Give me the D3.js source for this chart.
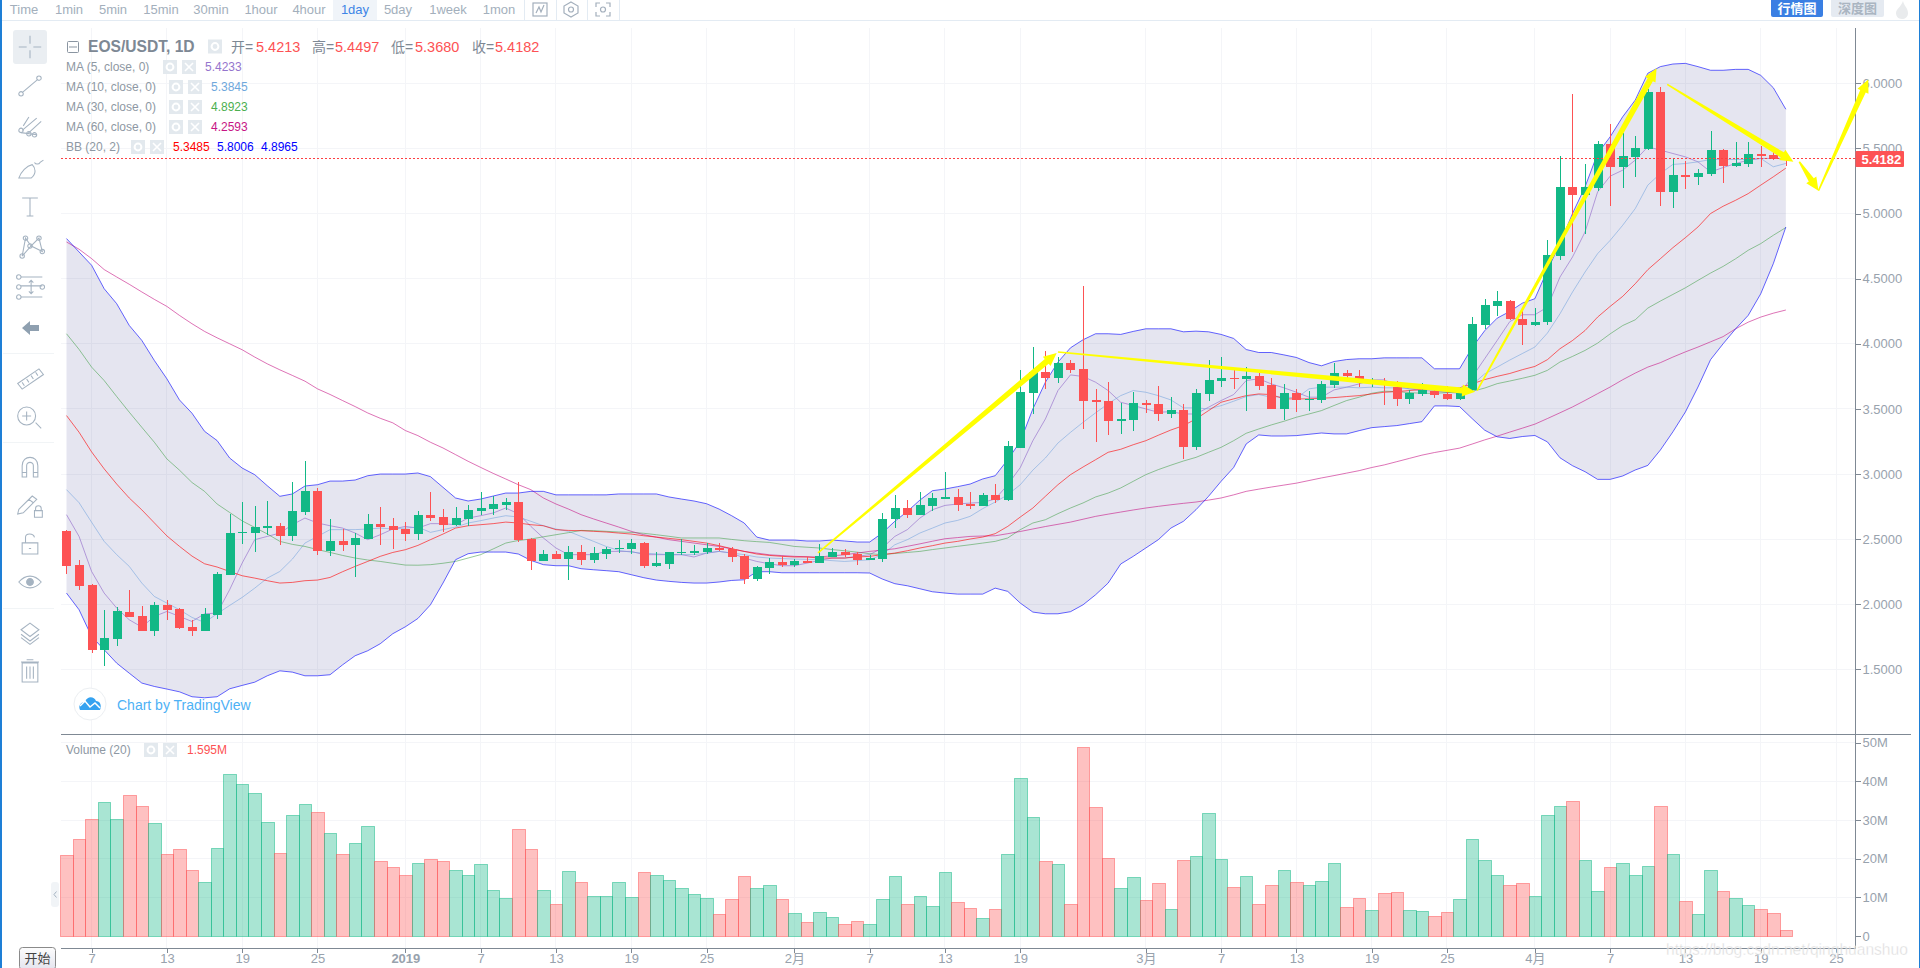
<!DOCTYPE html>
<html>
<head>
<meta charset="utf-8">
<title>EOS/USDT, 1D</title>
<script src="https://cdn.jsdelivr.net/npm/d3@7"></script>
<style>
html,body{margin:0;padding:0;background:#fff;overflow:hidden}
svg{display:block}
text{font-family:"Liberation Sans","Noto Sans CJK SC",sans-serif}
.axis path,.axis line{stroke:#7f8994;shape-rendering:crispEdges}
.axis text{fill:#98a2ad;font-size:13px}
</style>
</head>
<body>
<svg id="chart" width="1920" height="968"></svg>
<script>
// daily candles, index 0 = 5 Dec 2018
var openPrice=[
2.565,2.304,2.150,1.651,1.735,1.943,1.912,1.797,1.996,1.966,
1.827,1.797,1.920,2.227,2.552,2.550,2.588,2.603,2.526,2.711,
2.872,2.411,2.488,2.457,2.503,2.619,2.603,2.580,2.542,2.688,
2.672,2.611,2.657,2.719,2.734,2.765,2.788,2.503,2.334,2.388,
2.350,2.404,2.342,2.388,2.427,2.427,2.473,2.296,2.311,2.396,
2.396,2.404,2.434,2.427,2.373,2.196,2.281,2.327,2.304,2.334,
2.319,2.365,2.404,2.388,2.342,2.350,2.657,2.742,2.688,2.757,
2.811,2.826,2.772,2.757,2.841,2.803,3.202,3.626,3.787,3.741,
3.856,3.810,3.572,3.564,3.410,3.418,3.549,3.541,3.464,3.495,
3.210,3.618,3.718,3.741,3.733,3.756,3.687,3.502,3.626,3.572,
3.572,3.687,3.772,3.756,3.702,3.710,3.672,3.579,3.618,3.641,
3.618,3.579,3.649,4.141,4.287,4.326,4.194,4.141,4.164,4.671,
5.202,5.141,5.194,5.533,5.356,5.433,5.494,5.933,5.164,5.294,
5.279,5.302,5.487,5.364,5.379,5.456,5.448,5.4213]
var highPrice=[
2.573,2.342,2.158,1.958,1.976,2.112,1.989,2.014,2.035,1.971,
1.876,1.971,2.245,2.696,2.788,2.757,2.795,2.624,2.941,3.103,
2.893,2.657,2.580,2.547,2.696,2.749,2.662,2.634,2.719,2.865,
2.734,2.749,2.765,2.865,2.834,2.818,2.941,2.511,2.419,2.411,
2.450,2.457,2.442,2.442,2.496,2.503,2.480,2.404,2.404,2.503,
2.457,2.473,2.473,2.442,2.388,2.296,2.357,2.373,2.350,2.365,
2.465,2.434,2.427,2.404,2.381,2.703,2.841,2.803,2.865,2.857,
3.018,2.888,2.865,2.857,2.926,3.256,3.795,3.972,3.941,3.895,
3.879,4.441,3.656,3.710,3.549,3.633,3.572,3.679,3.595,3.541,
3.656,3.879,3.902,3.795,3.818,3.772,3.741,3.695,3.656,3.641,
3.718,3.849,3.802,3.795,3.741,3.741,3.718,3.649,3.702,3.672,
3.679,3.672,4.202,4.341,4.402,4.333,4.248,4.271,4.794,5.441,
5.918,5.379,5.556,5.687,5.618,5.594,5.953,5.972,5.425,5.402,
5.341,5.633,5.494,5.548,5.548,5.518,5.471,5.4497]
var lowPrice=[
2.235,2.112,1.625,1.528,1.681,1.904,1.797,1.758,1.881,1.812,
1.758,1.797,1.889,2.227,2.465,2.404,2.534,2.457,2.488,2.688,
2.381,2.373,2.411,2.211,2.503,2.457,2.427,2.488,2.496,2.642,
2.557,2.603,2.603,2.688,2.688,2.726,2.480,2.265,2.334,2.350,
2.188,2.304,2.319,2.350,2.396,2.388,2.281,2.288,2.273,2.381,
2.381,2.388,2.411,2.327,2.158,2.181,2.235,2.288,2.288,2.319,
2.319,2.365,2.365,2.304,2.342,2.327,2.588,2.665,2.688,2.719,
2.811,2.719,2.734,2.757,2.780,2.795,3.197,3.464,3.656,3.702,
3.779,3.349,3.249,3.302,3.310,3.333,3.472,3.410,3.433,3.118,
3.187,3.564,3.672,3.656,3.487,3.649,3.502,3.418,3.479,3.487,
3.549,3.664,3.733,3.672,3.672,3.533,3.526,3.541,3.602,3.587,
3.572,3.572,3.641,4.110,4.210,4.179,3.994,4.133,4.148,4.641,
4.702,4.841,5.171,5.056,5.194,5.279,5.487,5.056,5.041,5.187,
5.218,5.287,5.233,5.356,5.356,5.356,5.410,5.3680]
var closePrice=[
2.296,2.142,1.651,1.743,1.950,1.904,1.797,1.996,1.958,1.817,
1.797,1.927,2.235,2.550,2.557,2.596,2.603,2.526,2.719,2.872,
2.411,2.488,2.457,2.511,2.619,2.596,2.573,2.542,2.688,2.665,
2.611,2.665,2.726,2.742,2.772,2.788,2.496,2.334,2.388,2.350,
2.404,2.342,2.396,2.427,2.434,2.473,2.296,2.319,2.404,2.404,
2.411,2.434,2.419,2.365,2.196,2.288,2.327,2.304,2.334,2.319,
2.373,2.404,2.381,2.342,2.357,2.657,2.742,2.688,2.765,2.818,
2.826,2.765,2.757,2.841,2.803,3.218,3.633,3.787,3.741,3.856,
3.802,3.564,3.556,3.410,3.426,3.549,3.533,3.464,3.495,3.210,
3.626,3.725,3.741,3.733,3.756,3.679,3.502,3.626,3.572,3.579,
3.695,3.772,3.749,3.718,3.710,3.702,3.579,3.626,3.649,3.610,
3.579,3.626,4.149,4.295,4.326,4.187,4.141,4.171,4.679,5.202,
5.141,5.202,5.533,5.356,5.441,5.502,5.933,5.164,5.294,5.279,
5.310,5.487,5.364,5.387,5.456,5.441,5.415,5.4182]
// volume in millions
var volume=[
20.9,25.0,30.2,34.6,30.2,36.6,33.5,29.1,21.1,22.4,
17.2,13.9,22.7,41.8,39.2,36.9,29.4,21.4,31.2,34.1,
32.0,26.6,21.1,24.0,28.4,19.3,17.8,15.7,18.8,19.8,
19.3,17.2,15.7,18.5,11.8,9.7,27.6,22.4,11.8,8.2,
16.7,13.9,10.3,10.3,13.9,10.0,16.5,15.7,14.4,12.3,
10.8,9.7,5.6,9.5,15.4,12.3,13.1,9.5,5.9,3.5,
6.1,4.8,3.0,3.8,3.0,9.5,15.4,8.2,10.3,7.7,
16.5,8.7,7.2,4.6,6.9,21.1,40.8,30.7,19.3,18.5,
8.2,48.8,33.3,20.1,12.3,15.2,9.2,13.6,6.9,19.6,
20.6,31.7,19.8,12.8,15.4,8.4,13.1,17.0,13.9,13.1,
14.1,19.0,7.4,9.7,6.6,11.0,11.3,6.6,6.4,5.1,
6.1,9.5,25.0,19.6,15.7,13.1,13.6,10.3,31.2,33.5,
34.8,19.6,11.6,17.8,19.0,15.7,18.0,33.5,21.1,9.0,
5.6,17.0,11.6,9.7,7.9,6.9,5.9,1.595]
var ma5=[
2.688,2.521,2.252,2.086,1.971,1.881,1.825,1.907,1.945,1.907,
1.868,1.927,1.932,2.112,2.317,2.496,2.521,2.547,2.611,2.662,
2.624,2.603,2.585,2.547,2.496,2.534,2.578,2.598,2.585,2.619,
2.619,2.611,2.662,2.680,2.701,2.739,2.695,2.598,2.509,2.432,
2.381,2.381,2.381,2.406,2.406,2.406,2.381,2.381,2.381,2.381,
2.363,2.393,2.406,2.393,2.355,2.329,2.311,2.296,2.296,2.316,
2.337,2.355,2.355,2.368,2.381,2.432,2.521,2.573,2.662,2.726,
2.759,2.770,2.777,2.782,2.808,2.918,3.050,3.256,3.423,3.641,
3.761,3.749,3.705,3.641,3.551,3.526,3.500,3.474,3.479,3.461,
3.461,3.513,3.564,3.610,3.718,3.731,3.692,3.662,3.628,3.590,
3.590,3.646,3.667,3.692,3.723,3.723,3.679,3.654,3.641,3.636,
3.628,3.620,3.744,3.885,4.026,4.170,4.223,4.223,4.282,4.512,
4.666,4.859,5.166,5.287,5.333,5.410,5.512,5.487,5.461,5.435,
5.397,5.320,5.353,5.384,5.410,5.423,5.423,5.4233]
var ma10=[
2.880,2.780,2.630,2.483,2.381,2.291,2.163,2.060,2.009,1.958,
1.899,1.861,1.927,1.991,2.053,2.124,2.201,2.252,2.347,2.470,
2.521,2.573,2.573,2.573,2.578,2.585,2.578,2.585,2.593,2.552,
2.573,2.593,2.624,2.642,2.662,2.680,2.670,2.637,2.603,2.578,
2.560,2.521,2.483,2.444,2.414,2.400,2.393,2.387,2.381,2.381,
2.381,2.393,2.406,2.393,2.381,2.363,2.355,2.351,2.347,2.345,
2.342,2.335,2.329,2.335,2.342,2.381,2.457,2.496,2.547,2.585,
2.624,2.644,2.675,2.734,2.785,2.841,2.918,3.030,3.123,3.238,
3.320,3.397,3.470,3.540,3.602,3.641,3.628,3.602,3.569,3.508,
3.508,3.500,3.525,3.559,3.595,3.610,3.590,3.595,3.582,3.654,
3.667,3.667,3.667,3.662,3.667,3.662,3.662,3.654,3.662,3.641,
3.628,3.636,3.685,3.769,3.821,3.875,3.925,3.975,4.082,4.230,
4.397,4.551,4.692,4.794,4.910,5.038,5.218,5.307,5.377,5.384,
5.397,5.415,5.415,5.415,5.415,5.423,5.359,5.3845]
var ma30=[
4.077,3.957,3.821,3.718,3.595,3.475,3.359,3.244,3.116,3.030,
2.935,2.867,2.770,2.705,2.640,2.590,2.540,2.483,2.460,2.444,
2.420,2.398,2.375,2.355,2.340,2.329,2.315,2.301,2.300,2.304,
2.315,2.329,2.355,2.381,2.425,2.470,2.490,2.501,2.518,2.534,
2.550,2.567,2.565,2.560,2.555,2.552,2.545,2.534,2.522,2.509,
2.509,2.509,2.509,2.498,2.488,2.481,2.475,2.460,2.444,2.438,
2.432,2.420,2.411,2.400,2.388,2.381,2.390,2.398,2.406,2.420,
2.432,2.445,2.457,2.470,2.483,2.509,2.573,2.624,2.649,2.696,
2.739,2.778,2.824,2.854,2.893,2.944,2.995,3.034,3.068,3.100,
3.128,3.167,3.205,3.256,3.313,3.346,3.377,3.405,3.436,3.461,
3.487,3.526,3.564,3.590,3.620,3.636,3.633,3.625,3.620,3.620,
3.625,3.630,3.635,3.660,3.694,3.714,3.735,3.758,3.796,3.860,
3.903,3.949,4.005,4.076,4.140,4.184,4.274,4.328,4.379,4.430,
4.487,4.543,4.594,4.653,4.718,4.769,4.833,4.8923]
var ma60=[
4.782,4.726,4.654,4.570,4.513,4.457,4.398,4.341,4.287,4.218,
4.154,4.095,4.046,4.000,3.954,3.898,3.846,3.800,3.757,3.713,
3.654,3.611,3.564,3.518,3.469,3.428,3.393,3.334,3.295,3.244,
3.200,3.149,3.098,3.051,3.005,2.962,2.918,2.880,2.816,2.770,
2.731,2.688,2.655,2.624,2.593,2.560,2.534,2.515,2.496,2.483,
2.470,2.457,2.444,2.425,2.406,2.393,2.380,2.374,2.368,2.365,
2.363,2.372,2.380,2.393,2.406,2.416,2.426,2.445,2.464,2.484,
2.503,2.512,2.521,2.524,2.526,2.542,2.559,2.578,2.597,2.614,
2.631,2.653,2.675,2.692,2.708,2.724,2.739,2.752,2.764,2.775,
2.785,2.800,2.816,2.840,2.867,2.884,2.900,2.915,2.930,2.950,
2.970,2.988,3.007,3.026,3.050,3.070,3.095,3.120,3.145,3.165,
3.182,3.199,3.230,3.262,3.291,3.322,3.352,3.383,3.426,3.470,
3.515,3.565,3.617,3.668,3.724,3.775,3.821,3.855,3.898,3.938,
3.975,4.015,4.055,4.115,4.166,4.205,4.235,4.2593]
var bbUpper=[
4.808,4.705,4.603,4.423,4.308,4.141,4.026,3.872,3.731,3.569,
3.467,3.328,3.257,3.123,3.046,2.995,2.910,2.829,2.847,2.908,
2.918,2.946,2.946,2.954,2.987,3.000,3.000,3.000,3.008,2.980,
2.898,2.816,2.793,2.808,2.831,2.854,2.854,2.867,2.867,2.840,
2.840,2.840,2.840,2.840,2.847,2.847,2.847,2.847,2.824,2.808,
2.793,2.772,2.731,2.680,2.624,2.516,2.493,2.493,2.493,2.486,
2.486,2.493,2.486,2.478,2.478,2.547,2.637,2.713,2.800,2.872,
2.885,2.903,2.923,2.962,2.987,3.110,3.250,3.500,3.705,3.859,
3.969,4.031,4.077,4.077,4.072,4.095,4.115,4.115,4.115,4.092,
4.097,4.092,4.072,4.041,3.956,3.933,3.933,3.915,3.895,3.856,
3.831,3.864,3.879,3.885,3.885,3.892,3.892,3.892,3.892,3.808,
3.808,3.808,3.970,4.100,4.197,4.248,4.312,4.346,4.564,4.769,
5.000,5.205,5.461,5.589,5.743,5.871,6.077,6.128,6.148,6.153,
6.128,6.100,6.100,6.107,6.107,6.061,5.966,5.8006]
var bbLower=[
2.086,1.958,1.753,1.651,1.548,1.471,1.395,1.369,1.349,1.328,
1.290,1.282,1.290,1.351,1.377,1.402,1.451,1.489,1.479,1.451,
1.451,1.459,1.535,1.605,1.643,1.697,1.774,1.827,1.891,1.996,
2.163,2.342,2.388,2.401,2.401,2.401,2.386,2.337,2.304,2.296,
2.296,2.273,2.265,2.258,2.250,2.227,2.204,2.186,2.176,2.168,
2.163,2.163,2.171,2.183,2.188,2.250,2.250,2.242,2.242,2.242,
2.242,2.242,2.242,2.242,2.240,2.194,2.158,2.142,2.119,2.096,
2.086,2.078,2.078,2.078,2.124,2.099,2.009,1.940,1.927,1.927,
1.943,1.996,2.073,2.163,2.309,2.368,2.432,2.496,2.585,2.637,
2.726,2.829,2.944,3.050,3.231,3.300,3.292,3.292,3.295,3.305,
3.315,3.308,3.308,3.333,3.356,3.364,3.372,3.387,3.402,3.523,
3.523,3.518,3.426,3.337,3.286,3.273,3.288,3.296,3.247,3.125,
3.064,3.018,2.959,2.959,2.985,3.031,3.066,3.184,3.324,3.477,
3.668,3.878,4.000,4.115,4.218,4.384,4.615,4.8965]
var bbBasis=[
3.449,3.321,3.170,3.040,2.923,2.816,2.725,2.625,2.525,2.445,
2.370,2.311,2.286,2.252,2.219,2.201,2.181,2.163,2.168,2.181,
2.186,2.206,2.250,2.291,2.329,2.368,2.398,2.419,2.452,2.496,
2.539,2.585,2.603,2.611,2.619,2.631,2.624,2.611,2.603,2.573,
2.567,2.565,2.560,2.555,2.547,2.539,2.526,2.516,2.506,2.496,
2.483,2.470,2.450,2.427,2.406,2.386,2.375,2.368,2.363,2.363,
2.355,2.355,2.355,2.363,2.368,2.381,2.393,2.411,2.432,2.450,
2.470,2.483,2.501,2.516,2.542,2.598,2.670,2.739,2.829,2.918,
2.995,3.054,3.110,3.167,3.190,3.225,3.256,3.298,3.338,3.372,
3.423,3.487,3.551,3.577,3.602,3.615,3.610,3.577,3.577,3.577,
3.582,3.587,3.595,3.602,3.615,3.628,3.633,3.641,3.649,3.654,
3.659,3.662,3.692,3.725,3.750,3.772,3.801,3.826,3.878,3.962,
4.025,4.102,4.205,4.287,4.364,4.461,4.569,4.653,4.738,4.815,
4.897,5.000,5.056,5.102,5.153,5.218,5.282,5.3485]

var priceTicks=[1.5,2,2.5,3,3.5,4,4.5,5,5.5,6]
var volumeTicks=[0,10,20,30,40,50]
var timeTickDays=[2,8,14,20,27,33,39,45,51,58,64,70,76,86,92,98,104,110,117,123,129,135,141]
var timeTickLabels=["7","13","19","25","2019","7","13","19","25","2月","7","13","19","3月","7","13","19","25","4月","7","13","19","25"]
var intervals=["Time","1min","5min","15min","30min","1hour","4hour","1day","5day","1week","1mon"]
var intervalCenters=[24,69,113,161,211,261,309,355,398,448,499]
var lastPrice=5.4182

// hand drawn yellow arrows: [day index, price] from -> to
var arrowStart=[[59.88,2.394],[79.0,3.937],[112.4,3.640],[127.55,5.992],[138.07,5.398],[139.6,5.175]]
var arrowEnd=[[78.9,3.929],[112.25,3.632],[126.7,6.115],[137.6,5.398],[139.6,5.175],[143.57,6.030]]

var pane={left:61,right:1855.5,top:28,bottom:734.5,axisBottom:948.5}
var redColor="#fd5254"
var greenColor="#12b886"

var svg=d3.select("#chart")
var days=d3.range(openPrice.length)

var xScale=d3.scaleLinear()
    .domain([-0.438,142.55])
    .range([pane.left,pane.right])
var yScale=d3.scaleLinear()
    .domain([1.5,6])
    .range([669.4,83.3])
var volScale=d3.scaleLinear()
    .domain([0,50])
    .range([936,742.7])

var upDay=function(i){return closePrice[i]>=openPrice[i]}

var drawGrid=function()
    {
        var grid=svg.append("g")
            .attr("stroke","#f4f5f8")
            .attr("shape-rendering","crispEdges")
        grid.selectAll(".v")
            .data(timeTickDays)
            .enter()
            .append("line")
            .attr("x1",function(d){return xScale(d)})
            .attr("x2",function(d){return xScale(d)})
            .attr("y1",pane.top)
            .attr("y2",pane.axisBottom)
        grid.selectAll(".h")
            .data(priceTicks)
            .enter()
            .append("line")
            .attr("x1",pane.left)
            .attr("x2",pane.right)
            .attr("y1",function(d){return yScale(d)})
            .attr("y2",function(d){return yScale(d)})
        grid.selectAll(".vol")
            .data(volumeTicks.slice(1))
            .enter()
            .append("line")
            .attr("x1",pane.left)
            .attr("x2",pane.right)
            .attr("y1",function(d){return volScale(d)})
            .attr("y2",function(d){return volScale(d)})
    }

var drawBands=function()
    {
        var area=d3.area()
            .x(function(i){return xScale(i)})
            .y0(function(i){return yScale(bbLower[i])})
            .y1(function(i){return yScale(bbUpper[i])})
        svg.append("path")
            .datum(days)
            .attr("d",area)
            .attr("fill","rgb(30,30,120)")
            .attr("fill-opacity",0.115)
    }

var drawLine=function(values,color,opacity)
    {
        var line=d3.line()
            .x(function(v,i){return xScale(i)})
            .y(function(v){return yScale(v)})
        svg.append("path")
            .datum(values)
            .attr("d",line)
            .attr("fill","none")
            .attr("stroke",color)
            .attr("stroke-opacity",opacity)
            .attr("stroke-width",1)
    }

var drawCandles=function()
    {
        var candles=svg.append("g")
            .attr("shape-rendering","crispEdges")
            .selectAll("g")
            .data(days)
            .enter()
            .append("g")
            .attr("fill",function(i){return upDay(i)?greenColor:redColor})
        candles.append("rect")
            .attr("x",function(i){return Math.round(xScale(i))})
            .attr("width",1)
            .attr("y",function(i){return yScale(highPrice[i])})
            .attr("height",function(i){return yScale(lowPrice[i])-yScale(highPrice[i])})
        candles.append("rect")
            .attr("x",function(i){return Math.round(xScale(i))-4})
            .attr("width",9)
            .attr("y",function(i){return yScale(Math.max(openPrice[i],closePrice[i]))})
            .attr("height",function(i){return Math.max(1.5,Math.abs(yScale(openPrice[i])-yScale(closePrice[i])))})
    }

var drawVolume=function()
    {
        svg.append("g")
            .selectAll("rect")
            .data(days)
            .enter()
            .append("rect")
            .attr("x",function(i){return Math.round(xScale(i-0.5))+0.5})
            .attr("width",function(i){return Math.round(xScale(i+0.5))-Math.round(xScale(i-0.5))})
            .attr("y",function(i){return Math.round(volScale(volume[i]))+0.5})
            .attr("height",function(i){return volScale(0)-Math.round(volScale(volume[i]))})
            .attr("fill",function(i){return upDay(i)?greenColor:redColor})
            .attr("fill-opacity",0.36)
            .attr("stroke",function(i){return upDay(i)?greenColor:redColor})
            .attr("stroke-opacity",0.5)
    }

var drawArrows=function()
    {
        // tapered shaft with a small head, thin end at the start
        arrowStart.forEach(function(from,k)
            {
                var x0=xScale(from[0]),y0=yScale(from[1])
                var x1=xScale(arrowEnd[k][0]),y1=yScale(arrowEnd[k][1])
                var len=Math.sqrt((x1-x0)*(x1-x0)+(y1-y0)*(y1-y0))
                var ux=(x1-x0)/len,uy=(y1-y0)/len
                var nx=-uy,ny=ux
                var headLen=Math.min(13,len*0.4)
                var tail=0.8,neck=3,wing=6
                var bx=x1-ux*headLen,by=y1-uy*headLen
                var pts=[
                    [x0+nx*tail,y0+ny*tail],
                    [bx+nx*neck,by+ny*neck],
                    [bx+nx*wing,by+ny*wing],
                    [x1,y1],
                    [bx-nx*wing,by-ny*wing],
                    [bx-nx*neck,by-ny*neck],
                    [x0-nx*tail,y0-ny*tail]
                ]
                svg.append("polygon")
                    .attr("points",pts.map(function(p){return p.join(",")}).join(" "))
                    .attr("fill","#ffff00")
            })
    }

var drawAxes=function()
    {
        var priceAxis=d3.axisRight(yScale)
            .tickValues(priceTicks)
            .tickSize(5)
            .tickPadding(2)
            .tickFormat(d3.format(".4f"))
        svg.append("g")
            .attr("class","axis")
            .attr("transform","translate("+pane.right+",0)")
            .call(priceAxis)
            .select(".domain").remove()

        var volAxis=d3.axisRight(volScale)
            .tickValues(volumeTicks)
            .tickSize(5)
            .tickPadding(2)
            .tickFormat(function(d){return d==0?"0":d+"M"})
        svg.append("g")
            .attr("class","axis")
            .attr("transform","translate("+pane.right+",0)")
            .call(volAxis)
            .select(".domain").remove()

        var timeAxis=d3.axisBottom(xScale)
            .tickValues(timeTickDays)
            .tickSize(4)
            .tickPadding(1)
            .tickFormat(function(d,i){return timeTickLabels[i]})
        var g=svg.append("g")
            .attr("class","axis")
            .attr("transform","translate(0,"+pane.axisBottom+")")
            .call(timeAxis)
        g.select(".domain").remove()
        g.selectAll("text")
            .style("font-weight",function(d,i){return timeTickLabels[i]=="2019"?"bold":"normal"})

        var frame=svg.append("g")
            .attr("stroke","#7f8994")
            .attr("shape-rendering","crispEdges")
        frame.append("line").attr("x1",pane.left).attr("x2",1911).attr("y1",pane.bottom).attr("y2",pane.bottom)
        frame.append("line").attr("x1",pane.left).attr("x2",pane.right).attr("y1",pane.axisBottom).attr("y2",pane.axisBottom)
        frame.append("line").attr("x1",pane.right).attr("x2",pane.right).attr("y1",pane.top).attr("y2",pane.axisBottom)
    }

var drawLastPrice=function()
    {
        svg.append("line")
            .attr("x1",pane.left)
            .attr("x2",pane.right)
            .attr("y1",Math.round(yScale(lastPrice))-0.5)
            .attr("y2",Math.round(yScale(lastPrice))-0.5)
            .attr("stroke","#fd3f42")
            .attr("stroke-dasharray","2,2")
        svg.append("rect")
            .attr("x",pane.right)
            .attr("y",yScale(lastPrice)-8)
            .attr("width",48.5)
            .attr("height",16)
            .attr("rx",1)
            .attr("fill",redColor)
        svg.append("text")
            .text(d3.format(".4f")(lastPrice))
            .attr("x",pane.right+6)
            .attr("y",yScale(lastPrice)+4.5)
            .attr("fill","#fff")
            .style("font-size","13px")
            .style("font-weight","bold")
    }

var label=function(parent,txt,x,y,size,color,weight)
    {
        return parent.append("text")
            .text(txt)
            .attr("x",x)
            .attr("y",y)
            .attr("fill",color)
            .style("font-size",size+"px")
            .style("font-weight",weight||"normal")
    }

// small gear + close squares beside each study name
var studyBoxes=function(parent,x1,x2,y)
    {
        [x1,x2].forEach(function(x,k)
            {
                parent.append("rect")
                    .attr("x",x).attr("y",y-7).attr("width",14).attr("height",14)
                    .attr("fill","#e3e9ee")
                if(k==0)
                    {
                        parent.append("circle")
                            .attr("cx",x+7).attr("cy",y).attr("r",3.4)
                            .attr("fill","none").attr("stroke","#fff").attr("stroke-width",2)
                    }
                else
                    {
                        parent.append("path")
                            .attr("d","M"+(x+3)+","+(y-4)+"L"+(x+11)+","+(y+4)+"M"+(x+11)+","+(y-4)+"L"+(x+3)+","+(y+4))
                            .attr("stroke","#fff").attr("stroke-width",1.6)
                    }
            })
    }

var drawLegend=function()
    {
        var g=svg.append("g")
        g.append("rect")
            .attr("x",67.5).attr("y",41.5).attr("width",11).attr("height",11).attr("rx",1)
            .attr("fill","none").attr("stroke","#8a95a1")
        g.append("line")
            .attr("x1",69).attr("x2",77).attr("y1",47).attr("y2",47).attr("stroke","#8a95a1")
        label(g,"EOS/USDT, 1D",88,52,15.6,"#7d8894","bold")
        studyBoxes(g,208,-100,46.5)
        var pairs=[["开=","5.4213",231,256],["高=","5.4497",312,335],["低=","5.3680",391,415],["收=","5.4182",472,495]]
        pairs.forEach(function(p)
            {
                label(g,p[0],p[2],52,14,"#7d8894")
                label(g,p[1],p[3],52,14.5,"#fd5254")
            })

        var rows=[
            {name:"MA (5, close, 0)",y:67,b1:163,b2:182,vals:[["5.4233",205,"#9575cd"]]},
            {name:"MA (10, close, 0)",y:87,b1:169,b2:188,vals:[["5.3845",211,"#6fa8dc"]]},
            {name:"MA (30, close, 0)",y:107,b1:169,b2:188,vals:[["4.8923",211,"#4caf50"]]},
            {name:"MA (60, close, 0)",y:127,b1:169,b2:188,vals:[["4.2593",211,"#c71585"]]},
            {name:"BB (20, 2)",y:147,b1:131,b2:150,vals:[["5.3485",173,"#ff0000"],["5.8006",217,"#0000ff"],["4.8965",261,"#0000ff"]]}
        ]
        rows.forEach(function(r)
            {
                label(g,r.name,66,r.y+4,12,"#8e98a3")
                studyBoxes(g,r.b1,r.b2,r.y)
                r.vals.forEach(function(v){label(g,v[0],v[1],r.y+4,12,v[2])})
            })

        label(g,"Volume (20)",66,754,12,"#8e98a3")
        studyBoxes(g,144,163,750)
        label(g,"1.595M",187,754,12,"#fd5254")
    }

var drawToolbar=function()
    {
        var top=svg.append("g")
        top.append("rect").attr("x",333).attr("y",0).attr("width",44).attr("height",20).attr("fill","#f0f4f9")
        top.append("line").attr("x1",0).attr("x2",1920).attr("y1",20.5).attr("y2",20.5).attr("stroke","#e3ebf3")
        intervals.forEach(function(t,i)
            {
                label(top,t,intervalCenters[i],14,13,t=="1day"?"#3d85e6":"#a3afbc")
                    .attr("text-anchor","middle")
            })
        ;[524,556,587,619].forEach(function(x)
            {
                top.append("line").attr("x1",x+0.5).attr("x2",x+0.5).attr("y1",0).attr("y2",20).attr("stroke","#e3ebf3")
            })
        var stroke={"fill":"none","stroke":"#a3afbc","stroke-width":1.2}
        var s=function(sel){Object.keys(stroke).forEach(function(k){sel.attr(k,stroke[k])});return sel}
        s(top.append("rect").attr("x",533).attr("y",3).attr("width",14).attr("height",13))
        s(top.append("path").attr("d","M536,13L539,7L541,12L544,5"))
        s(top.append("path").attr("d","M571,2L578,6V13L571,17L564,13V6Z"))
        s(top.append("circle").attr("cx",571).attr("cy",9.5).attr("r",2.5))
        s(top.append("path").attr("d","M596,7V3H600M606,3H610V7M610,12V16H606M600,16H596V12"))
        s(top.append("circle").attr("cx",603).attr("cy",9.5).attr("r",2.5))

        // top right buttons, cut off by the window edge
        top.append("rect").attr("x",1771).attr("y",-3).attr("width",52).attr("height",20).attr("rx",2).attr("fill","#3a7fe3")
        label(top,"行情图",1797,13,13,"#fff","bold").attr("text-anchor","middle")
        top.append("rect").attr("x",1831).attr("y",-3).attr("width",53).attr("height",20).attr("rx",2).attr("fill","#e5eaf1")
        label(top,"深度图",1857.5,13,13,"#aab5c1","bold").attr("text-anchor","middle")
        top.append("path")
            .attr("d","M1903,1C1904,6 1908,8 1908,13C1908,17 1905,19 1902,19C1898,19 1896,16 1896,13C1896,9 1901,7 1903,1Z")
            .attr("fill","#e9ebed")

        // side tool icons
        var left=svg.append("g")
            .attr("fill","none")
            .attr("stroke","#a5b3c1")
            .attr("stroke-width",0.95)
        left.append("rect").attr("x",13).attr("y",30).attr("width",34).attr("height",34).attr("rx",3).attr("fill","#eaeef2").attr("stroke","none")
        var icon=function(y,d,extra)
            {
                var g=left.append("g").attr("transform","translate(30,"+y+") scale(1.12)")
                g.append("path").attr("d",d)
                ;(extra||[]).forEach(function(c)
                    {
                        g.append("circle").attr("cx",c[0]).attr("cy",c[1]).attr("r",c[2]||2)
                    })
                return g
            }
        icon(47,"M-10,0H-3M3,0H10M0,-10V-3M0,3V10")
        icon(86,"M-7,6L7,-6",[[-8,7],[8,-7]])
        icon(127,"M-6,-1L-1,-9M-7,3L6,-8M-2,6L10,-5M-8,5L6,7",[[-8,3],[-1,6],[4,7]])
        icon(168,"M-10,9H1C6,5 5,0 2,-3C-3,-2 -8,3 -10,9ZM4,-5C5,-3 8,-3 9,-5L12,-7")
        icon(207,"M-7,-8H7M0,-8V8M-3,8H3")
        icon(246,"M-7,9L-4,-7L1,0L8,-7L11,5L1,0L-7,9",[[-7,9],[-4,-7],[8,-7],[11,5],[0,0]])
        icon(287,"M-8,-9H11M-8,-1H11M-8,9H11M1,-6V6M-1,-4L1,-6L3,-4M-1,4L1,6L3,4",[[-10,-9],[-10,0],[-10,9],[11,0]])
        left.append("path").attr("d","M22,328L30,321V325H39V331H30V335Z").attr("fill","#8fa0b0").attr("stroke","none")
        ;[353,442,608].forEach(function(y)
            {
                left.append("line").attr("x1",3).attr("x2",54).attr("y1",y+0.5).attr("y2",y+0.5).attr("stroke","#f0f3f6")
            })
        icon(379,"M-11,4L8,-9L12,-4L-7,9ZM-7,3L-5,6M-3,0L-1,3M1,-3L3,0M5,-6L7,-3")
        icon(416,"M-3,-4V4M-7,0H1M5,6L10,11",[[-3,0,8]])
        icon(468,"M-7,8V-2C-7,-12 7,-12 7,-2V8H3V-2C3,-6 -3,-6 -3,-2V8ZM-7,4H-3M3,4H7")
        icon(505,"M-10,4L2,-8L6,-5L-6,7L-11,8ZM-1,-5L3,-2M4,5H11V11H4ZM5,5V3C5,0 10,0 10,3V5")
        icon(544,"M-7,-1H7V9H-7ZM-4,-1V-6C-4,-10 3,-10 4,-6M-1,4H1")
        icon(582,"M-10,0C-4,-7 4,-7 10,0C4,7 -4,7 -10,0Z").append("circle").attr("r",3).attr("fill","#a5b3c1")
        icon(632,"M-8,-2L0,-8L8,-2L0,4ZM-8,2L0,8L8,2M-8,5L0,11L8,5")
        icon(672,"M-7,-8H7V9H-7ZM-8,-9H8M-3,-11H3M-3,-5V6M0,-5V6M3,-5V6")

        svg.append("rect").attr("x",0).attr("y",0).attr("width",2).attr("height",968).attr("fill","#1e7fd6")
        svg.append("rect").attr("x",1919).attr("y",0).attr("width",1).attr("height",968).attr("fill","#1e7fd6")
    }

var drawExtras=function()
    {
        // chart by tradingview badge
        var badge=svg.append("g")
        badge.append("circle")
            .attr("cx",90).attr("cy",704).attr("r",16)
            .attr("fill","#fff").attr("stroke","#eceff2")
        badge.append("path")
            .attr("d","M80,710C78,705 81,702 85,702C87,696 94,696 96,701C100,701 102,705 100,710Z")
            .attr("fill","#35a2f0")
        badge.append("path")
            .attr("d","M80,706L85,701L90,707L95,703L100,708")
            .attr("fill","none").attr("stroke","#fff").attr("stroke-width",1.5)
        label(badge,"Chart by TradingView",117,710,14,"#4db1f5")

        // collapse handle of the volume pane
        svg.append("rect").attr("x",51).attr("y",882).attr("width",8).attr("height",25).attr("rx",3).attr("fill","#f1f4f7")
        svg.append("path").attr("d","M56.5,891.5L54,894.5L56.5,897.5").attr("fill","none").attr("stroke","#a5b3c1")

        // windows start button over the page
        var defs=svg.append("defs").append("linearGradient")
            .attr("id","btn").attr("x1",0).attr("x2",0).attr("y1",0).attr("y2",1)
        defs.append("stop").attr("offset","0").attr("stop-color","#fdfdfd")
        defs.append("stop").attr("offset","1").attr("stop-color","#e4e4ee")
        svg.append("rect")
            .attr("x",19.5).attr("y",947.5).attr("width",36).attr("height",22).attr("rx",3)
            .attr("fill","url(#btn)").attr("stroke","#8a8a8a")
        label(svg,"开始",37.5,963,13,"#444").attr("text-anchor","middle")

        // csdn watermark
        label(svg,"https://blog.csdn.net/qinghuanshuo",1666,955,15.6,"#cfcfcf")
            .attr("opacity",0.75)
            .attr("stroke","#fff")
            .attr("stroke-width",0.4)
    }

drawGrid()
drawBands()
drawVolume()
drawLine(ma5,"#8e64c8",0.6)
drawLine(ma10,"#6fa0dc",0.55)
drawLine(ma30,"#3f9f45",0.55)
drawLine(ma60,"#c71585",0.6)
drawLine(bbBasis,"#ff0000",0.6)
drawLine(bbUpper,"#0000ff",0.6)
drawLine(bbLower,"#0000ff",0.6)
drawCandles()
drawAxes()
drawLastPrice()
drawArrows()
drawToolbar()
drawLegend()
drawExtras()
</script>
</body>
</html>
